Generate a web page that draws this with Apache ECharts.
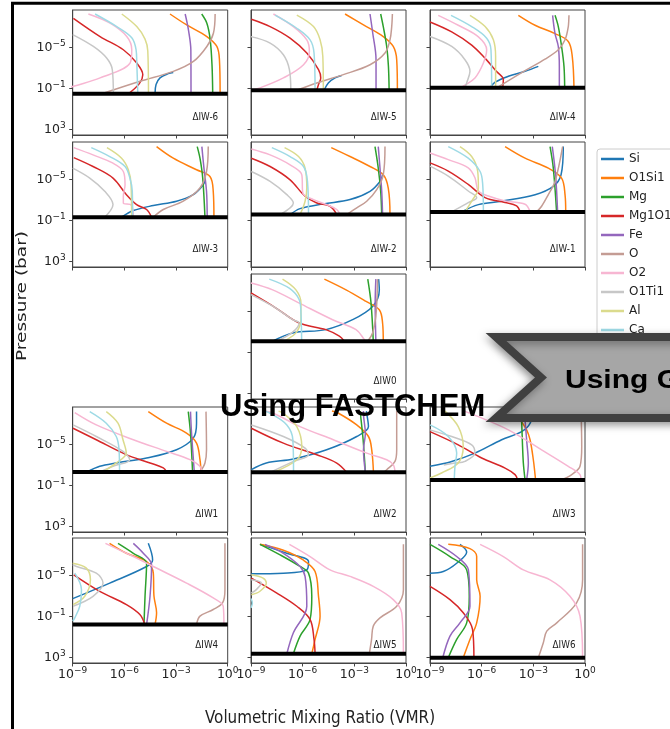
<!DOCTYPE html>
<html>
<head>
<meta charset="utf-8">
<script src="https://cdn.jsdelivr.net/npm/echarts@6/dist/echarts.min.js"></script>
<style>
  html, body { margin: 0; padding: 0; background: #fff; }
  #chart { width: 670px; height: 729px; }
</style>
</head>
<body>
<div id="chart"></div>
<script>
// Species profiles: each curve is a list of [log10(VMR), log10(P / bar)] points.
const species = ['Si', 'O1Si1', 'Mg', 'Mg1O1', 'Fe', 'O', 'O2', 'O1Ti1', 'Al', 'Ca'];
const speciesColors = ['#1f77b4', '#ff7f0e', '#2ca02c', '#d62728', '#9467bd',
                       '#c49c94', '#f7b6d2', '#c7c7c7', '#dbdb8d', '#9edae5'];

const panelNames = ['ΔIW-6', 'ΔIW-5', 'ΔIW-4', 'ΔIW-3', 'ΔIW-2', 'ΔIW-1', 'ΔIW0',
                    'ΔIW1', 'ΔIW2', 'ΔIW3', 'ΔIW4', 'ΔIW5', 'ΔIW6'];
// log10 of the surface pressure for each panel
const surfaceLogP = [-0.42, -0.77, -1.0, -1.26, -1.52, -1.78, -2.04,
                     -2.26, -2.22, -1.48, -0.15, 2.70, 3.09];

const vmrTicks = [-9, -6, -3, 0];
const pressureTicks = [-5, -1, 3];

const iwM6 = [
  [[-4.22,-0.42],[-4.16,-1.32],[-3.93,-1.97],[-3.45,-2.39],[-3.16,-2.51]],
  [[-3.35,-8.21],[-2.38,-7.14],[-1.21,-6.01],[-0.63,-5.04],[-0.48,-3.75],[-0.44,-0.42]],
  [[-1.51,-8.21],[-1.21,-7.31],[-1.02,-5.76],[-0.91,-3.18],[-0.87,-0.42]],
  [[-8.96,-7.79],[-7.41,-6.01],[-6.06,-4.72],[-5.28,-3.42],[-4.93,-2.29],[-5.13,-1.41],[-5.77,-0.42]],
  [[-2.47,-8.21],[-2.28,-6.66],[-2.14,-4.72],[-2.13,-0.42]],
  [[-7.31,-0.42],[-5.09,-1.64],[-3.16,-2.61],[-1.99,-3.58],[-1.21,-5.04],[-0.83,-6.33],[-0.73,-8.21]],
  [[-8.09,-8.21],[-6.83,-7.31],[-5.86,-6.01],[-5.57,-4.72],[-5.67,-3.42],[-7.41,-1.97],[-8.96,-1.15],[-9.2,-1.0]],
  [[-9.0,-6.2],[-7.80,-5.04],[-7.03,-3.91],[-6.70,-2.77],[-6.64,-0.42]],
  [[-6.15,-8.21],[-5.28,-6.98],[-4.80,-5.76],[-4.64,-4.6],[-4.60,-0.42]],
  [[-7.70,-8.21],[-6.44,-6.98],[-5.57,-5.9],[-5.32,-4.72],[-5.28,-3.5],[-5.22,-0.42]]
];
const iwM5 = [
  [[-4.76,-0.77],[-4.51,-1.48],[-4.12,-1.97],[-3.74,-2.2]],
  [[-3.54,-8.21],[-2.47,-7.14],[-1.32,-6.01],[-0.74,-5.04],[-0.54,-3.75],[-0.50,-0.77]],
  [[-1.47,-8.21],[-1.32,-6.98],[-1.12,-5.04],[-1.02,-3.10],[-0.98,-0.77]],
  [[-8.98,-7.69],[-7.89,-6.98],[-6.73,-5.85],[-5.76,-4.40],[-5.08,-2.78],[-4.95,-1.97],[-5.08,-1.33],[-5.18,-0.77]],
  [[-2.09,-8.21],[-1.93,-6.33],[-1.74,-3.75],[-1.74,-0.77]],
  [[-6.34,-0.77],[-5.18,-1.48],[-3.64,-2.29],[-2.09,-3.26],[-1.22,-4.40],[-0.93,-5.69],[-0.83,-6.98],[-0.79,-8.21]],
  [[-7.70,-8.21],[-6.54,-6.98],[-5.76,-5.69],[-5.61,-4.56],[-5.95,-3.26],[-7.12,-1.97],[-8.48,-1.0],[-9.0,-0.8]],
  [[-9.0,-6.0],[-7.89,-5.37],[-7.12,-4.23],[-6.77,-2.78],[-6.69,-0.77]],
  [[-6.34,-8.1],[-5.37,-6.98],[-4.99,-5.69],[-4.83,-4.07],[-4.80,-0.77]],
  [[-7.6,-8.1],[-6.34,-6.82],[-5.57,-5.69],[-5.34,-4.40],[-5.28,-0.77]]
];
const iwM4 = [
  [[-5.51,-1.0],[-5.22,-1.55],[-4.45,-2.13],[-3.48,-2.62],[-2.71,-3.10]],
  [[-3.87,-8.08],[-2.90,-7.11],[-1.74,-6.30],[-0.97,-5.53],[-0.74,-4.07],[-0.64,-1.0]],
  [[-1.74,-8.08],[-1.55,-6.98],[-1.36,-5.04],[-1.22,-3.10],[-1.18,-1.0]],
  [[-9.0,-7.43],[-7.74,-6.46],[-6.58,-5.17],[-5.80,-3.88],[-5.13,-2.59],[-4.74,-1.81],[-4.78,-1.0]],
  [[-1.88,-8.08],[-1.74,-6.30],[-1.55,-5.04],[-1.49,-3.10],[-1.49,-1.0]],
  [[-5.03,-1.1],[-3.48,-2.68],[-2.32,-3.81],[-1.55,-4.72],[-1.16,-5.69],[-0.97,-6.98],[-0.93,-8.08]],
  [[-8.52,-8.08],[-7.36,-7.11],[-6.19,-5.98],[-5.71,-4.72],[-5.90,-3.43],[-6.39,-1.97],[-7.07,-1.16],[-7.2,-1.0]],
  [[-9.0,-6.01],[-7.74,-5.04],[-6.97,-3.75],[-6.68,-2.62],[-6.87,-1.49],[-6.97,-1.0]],
  [[-6.68,-8.08],[-5.80,-6.98],[-5.32,-5.69],[-5.19,-4.07],[-5.19,-1.0]],
  [[-7.78,-8.08],[-6.58,-6.98],[-5.71,-5.85],[-5.46,-4.72],[-5.42,-1.0]]
];
const iwM3 = [
  [[-6.16,-1.26],[-5.48,-1.91],[-4.32,-2.40],[-2.97,-2.82],[-2.0,-3.46],[-1.42,-4.43],[-1.3,-5.0]],
  [[-4.13,-8.15],[-3.16,-7.02],[-1.81,-5.89],[-1.03,-5.24],[-0.84,-3.79],[-0.80,-1.26]],
  [[-1.77,-8.15],[-1.61,-7.02],[-1.45,-5.08],[-1.32,-1.26]],
  [[-8.94,-7.08],[-7.82,-6.21],[-6.66,-5.08],[-5.88,-3.46],[-5.29,-2.49],[-4.71,-2.01],[-4.42,-1.26]],
  [[-1.50,-8.15],[-1.38,-6.05],[-1.23,-3.79],[-1.19,-1.26]],
  [[-4.32,-1.26],[-3.74,-2.01],[-2.58,-2.82],[-1.61,-4.11],[-1.23,-5.72],[-1.13,-8.15]],
  [[-8.94,-8.05],[-7.82,-7.34],[-6.66,-6.53],[-6.06,-5.72],[-5.96,-4.43],[-6.06,-3.30],[-6.06,-2.65],[-5.58,-2.42],[-5.48,-1.26]],
  [[-9.0,-6.05],[-8.01,-5.08],[-7.14,-3.79],[-6.66,-2.49],[-7.14,-1.26]],
  [[-7.01,-8.05],[-6.16,-7.02],[-5.77,-5.89],[-5.61,-4.43],[-5.58,-1.26]],
  [[-7.92,-8.05],[-6.85,-7.18],[-5.96,-6.21],[-5.68,-5.08],[-5.54,-3.79],[-5.52,-1.26]]
];
const iwM2 = [
  [[-6.73,-1.52],[-6.15,-2.10],[-4.80,-2.56],[-3.25,-2.98],[-2.09,-3.79],[-1.51,-4.75],[-1.35,-5.4]],
  [[-4.34,-8.05],[-3.25,-7.18],[-2.09,-6.21],[-1.32,-5.40],[-1.03,-4.11],[-0.93,-1.52]],
  [[-1.80,-8.15],[-1.61,-6.05],[-1.47,-3.79],[-1.41,-1.52]],
  [[-8.98,-7.02],[-7.89,-6.21],[-6.73,-4.91],[-5.86,-3.30],[-5.18,-2.65],[-4.41,-2.33],[-4.02,-1.52]],
  [[-1.61,-8.15],[-1.51,-6.05],[-1.41,-3.79],[-1.36,-1.52]],
  [[-3.44,-1.52],[-2.86,-2.17],[-2.28,-2.82],[-1.70,-3.95],[-1.32,-5.40],[-1.22,-8.15]],
  [[-8.98,-7.92],[-7.89,-7.34],[-6.73,-6.37],[-6.05,-5.40],[-5.99,-3.62],[-5.37,-2.98],[-4.60,-2.49],[-4.02,-2.01],[-3.83,-1.52]],
  [[-8.98,-5.72],[-7.89,-4.75],[-6.92,-3.46],[-6.54,-2.65],[-7.31,-1.52]],
  [[-7.05,-8.05],[-6.24,-7.18],[-5.86,-6.05],[-5.76,-4.11],[-5.86,-2.82],[-6.15,-1.52]],
  [[-7.79,-8.05],[-6.73,-7.18],[-5.95,-6.21],[-5.72,-4.75],[-5.66,-1.52]]
];
const iwM1 = [
  [[-7.16,-1.78],[-6.19,-2.49],[-4.84,-2.82],[-2.90,-3.46],[-1.84,-4.27],[-1.39,-5.40],[-1.26,-8.15]],
  [[-4.64,-8.15],[-3.48,-7.02],[-2.13,-6.05],[-1.36,-5.08],[-1.16,-3.46],[-1.12,-1.78]],
  [[-2.03,-8.15],[-1.84,-6.05],[-1.65,-1.78]],
  [[-9.0,-6.56],[-7.94,-5.76],[-6.78,-4.46],[-5.80,-3.17],[-4.64,-2.69],[-3.97,-2.36],[-3.77,-1.78]],
  [[-1.90,-8.15],[-1.71,-5.40],[-1.59,-1.78]],
  [[-2.81,-1.78],[-2.52,-2.33],[-2.13,-3.46],[-1.74,-4.75],[-1.30,-8.15]],
  [[-9.0,-7.53],[-7.94,-6.88],[-6.78,-6.08],[-6.39,-5.11],[-6.19,-3.82],[-5.61,-3.33],[-4.64,-2.85],[-3.48,-2.52],[-3.19,-1.78]],
  [[-9.0,-6.24],[-7.94,-5.27],[-6.78,-3.82],[-6.29,-3.17],[-6.78,-2.69],[-7.46,-2.04],[-7.7,-1.78]],
  [[-7.26,-8.15],[-6.58,-7.18],[-6.23,-5.72],[-6.19,-4.11],[-6.58,-2.82],[-6.97,-1.78]],
  [[-7.94,-8.15],[-6.78,-7.02],[-6.09,-5.72],[-5.94,-4.46],[-5.90,-1.78]]
];
const iw0 = [
  [[-7.74,-2.04],[-6.58,-2.85],[-4.65,-3.17],[-3.10,-4.14],[-1.94,-5.43],[-1.55,-7.05],[-1.59,-8.1]],
  [[-4.74,-8.1],[-3.48,-7.05],[-2.32,-5.92],[-1.55,-5.11],[-1.36,-3.82],[-1.32,-2.04]],
  [[-2.22,-8.1],[-2.03,-5.76],[-1.90,-2.04]],
  [[-9.0,-6.75],[-7.55,-5.28],[-6.20,-3.82],[-4.65,-3.17],[-3.87,-2.53],[-3.58,-2.04]],
  [[-1.75,-8.1],[-1.79,-5.76],[-1.75,-2.04]],
  [[-2.22,-2.04],[-1.94,-2.85],[-1.75,-4.46],[-1.65,-8.1]],
  [[-9.0,-7.72],[-7.74,-7.05],[-6.20,-5.76],[-4.26,-4.14],[-2.90,-3.17],[-2.42,-2.20],[-2.35,-2.04]],
  [[-9.0,-6.59],[-7.74,-5.46],[-6.58,-4.14],[-6.20,-3.82],[-6.6,-2.9],[-7.5,-2.04]],
  [[-7.17,-8.1],[-6.39,-7.05],[-6.10,-5.76],[-6.10,-4.14],[-6.39,-2.85],[-6.97,-2.14],[-7.1,-2.04]],
  [[-7.94,-8.1],[-6.78,-7.21],[-6.20,-6.08],[-6.10,-4.79],[-6.06,-2.04]]
];
const iwP1 = [
  [[-8.17,-2.26],[-7.43,-2.82],[-6.47,-3.14],[-4.71,-3.62],[-2.97,-4.43],[-2.0,-5.56],[-1.81,-7.02],[-1.81,-8.15]],
  [[-4.61,-8.15],[-3.55,-7.02],[-2.39,-6.05],[-1.81,-5.08],[-1.61,-3.46],[-1.55,-2.26]],
  [[-2.29,-8.15],[-2.16,-6.05],[-2.04,-2.26]],
  [[-8.98,-6.53],[-7.63,-5.40],[-5.89,-3.95],[-4.51,-3.14],[-3.74,-2.65],[-3.55,-2.26]],
  [[-2.16,-8.15],[-2.10,-6.05],[-1.94,-2.26]],
  [[-1.26,-8.15],[-1.23,-4.43],[-1.32,-3.14],[-1.61,-2.26]],
  [[-8.88,-8.05],[-7.63,-6.85],[-5.48,-5.40],[-3.55,-4.27],[-2.19,-3.46],[-1.61,-2.82],[-1.52,-2.26]],
  [[-8.98,-6.85],[-7.63,-5.72],[-6.08,-4.27],[-5.69,-3.46],[-6.66,-2.82],[-7.43,-2.26]],
  [[-7.05,-8.15],[-6.37,-7.02],[-6.08,-5.40],[-5.89,-4.11],[-6.47,-3.14],[-7.24,-2.26]],
  [[-8.01,-8.15],[-7.05,-7.02],[-6.47,-5.72],[-6.31,-4.43],[-6.28,-2.26]]
];
const iwP2 = [
  [[-8.98,-2.48],[-8.11,-3.13],[-6.54,-3.52],[-4.61,-4.42],[-2.86,-5.72],[-2.18,-6.69],[-2.28,-7.99],[-2.3,-8.2]],
  [[-4.3,-8.2],[-3.92,-7.99],[-2.86,-6.85],[-2.18,-5.72],[-1.99,-4.42],[-1.89,-2.22]],
  [[-2.67,-8.2],[-2.65,-7.99],[-2.49,-5.40],[-2.36,-2.22]],
  [[-8.98,-6.53],[-7.12,-5.07],[-5.18,-3.94],[-4.02,-3.13],[-3.44,-2.22]],
  [[-2.47,-8.2],[-2.47,-7.99],[-2.36,-6.04],[-2.47,-4.42],[-2.36,-2.22]],
  [[-0.54,-8.2],[-0.54,-4.42],[-0.64,-3.29],[-1.12,-2.48],[-1.32,-2.22]],
  [[-8.2,-8.2],[-7.70,-7.99],[-6.15,-6.69],[-4.22,-5.40],[-2.28,-4.10],[-1.12,-3.45],[-0.74,-2.97],[-0.64,-2.22]],
  [[-8.98,-6.85],[-7.12,-5.72],[-5.86,-4.59],[-5.66,-3.94],[-6.53,-3.29],[-7.89,-2.22]],
  [[-7.4,-8.2],[-7.12,-7.99],[-6.34,-6.69],[-6.05,-4.75],[-6.34,-3.45],[-7.70,-2.22]],
  [[-8.2,-8.2],[-7.89,-7.99],[-6.92,-6.85],[-6.57,-5.40],[-6.53,-2.22]]
];
const iwP3 = [
  [[-9.0,-2.81],[-7.74,-3.29],[-6.39,-4.10],[-4.84,-5.40],[-3.68,-6.20],[-3.19,-7.01],[-3.05,-8.2]],
  [[-4.3,-8.2],[-3.77,-7.34],[-3.39,-6.37],[-3.19,-5.40],[-3.0,-3.45],[-2.87,-1.48]],
  [[-3.7,-8.2],[-3.68,-7.34],[-3.64,-5.40],[-3.58,-3.13],[-3.48,-1.48]],
  [[-9.0,-6.20],[-7.36,-4.91],[-6.0,-3.62],[-4.64,-2.64],[-4.06,-2.00],[-3.91,-1.48]],
  [[-3.5,-8.2],[-3.48,-7.34],[-3.39,-5.40],[-3.29,-3.13],[-3.39,-1.48]],
  [[-0.23,-8.2],[-0.19,-4.75],[-0.29,-2.81],[-0.77,-2.00],[-1.36,-1.48]],
  [[-7.0,-8.2],[-6.19,-7.66],[-4.45,-6.37],[-2.52,-4.42],[-0.97,-2.81],[-0.29,-2.00],[-0.23,-1.48]],
  [[-9.0,-6.37],[-7.74,-5.72],[-6.58,-4.91],[-6.39,-4.10],[-6.97,-3.29],[-7.55,-3.13],[-8.2,-2.95]],
  [[-8.13,-8.2],[-7.36,-6.69],[-7.07,-4.75],[-7.36,-3.13],[-8.33,-2.16],[-9.0,-1.67]],
  [[-9.0,-6.85],[-7.94,-5.72],[-7.45,-4.10],[-7.55,-2.81],[-7.59,-1.48]]
];
const iwP4 = [
  [[-4.61,-8.08],[-4.36,-6.46],[-4.71,-5.82],[-6.85,-4.20],[-9.0,-2.68]],
  [[-6.86,-8.08],[-5.88,-7.11],[-4.71,-6.30],[-4.32,-5.17],[-4.28,-2.91],[-4.13,-1.30],[-4.22,-0.15]],
  [[-6.37,-8.08],[-5.48,-7.11],[-4.71,-6.14],[-4.80,-2.91],[-4.86,-0.15]],
  [[-8.94,-5.01],[-7.43,-3.40],[-5.88,-2.10],[-5.10,-1.13],[-4.81,-0.15]],
  [[-5.48,-8.08],[-4.90,-7.11],[-4.42,-5.98],[-4.51,-2.91],[-4.71,-0.15]],
  [[-0.16,-8.08],[-0.16,-3.56],[-0.3,-2.26],[-0.84,-1.62],[-1.61,-0.97],[-1.81,-0.15]],
  [[-7.1,-8.08],[-5.48,-6.79],[-4.32,-5.82],[-2.39,-4.20],[-0.84,-2.75],[-0.26,-1.94],[-0.22,-0.15]],
  [[-9.0,-6.0],[-8.78,-5.82],[-7.63,-5.17],[-7.24,-4.20],[-7.82,-2.91],[-8.98,-1.94]],
  [[-9.0,-6.14],[-8.21,-5.66],[-7.97,-4.52],[-8.30,-2.91],[-8.98,-2.10]],
  [[-8.88,-5.17],[-8.49,-3.56],[-8.59,-1.94],[-8.88,-0.81],[-9.0,-0.5]]
];
const iwP5 = [
  [[-8.48,-7.98],[-6.92,-7.11],[-5.66,-6.30],[-5.76,-5.49],[-7.12,-5.17],[-8.98,-5.11]],
  [[-8.48,-7.98],[-7.12,-7.40],[-5.95,-6.43],[-5.28,-5.33],[-5.08,-2.91],[-4.99,-0.97],[-5.28,1.30],[-5.47,2.70]],
  [[-8.48,-7.98],[-7.31,-6.95],[-6.15,-5.82],[-5.66,-5.17],[-5.47,-2.91],[-5.57,-0.65],[-6.15,0.97],[-6.54,2.70]],
  [[-8.98,-4.69],[-7.50,-3.23],[-6.34,-1.94],[-5.57,-0.65],[-5.34,1.30],[-5.28,2.70]],
  [[-8.19,-7.98],[-7.12,-7.11],[-6.15,-5.82],[-5.86,-4.85],[-5.76,-1.94],[-6.54,0.65],[-6.92,2.70]],
  [[-0.15,-7.98],[-0.15,-3.56],[-0.54,-1.94],[-1.51,-0.81],[-1.90,0.0],[-2.0,1.30],[-2.13,2.70]],
  [[-6.77,-7.98],[-5.57,-6.79],[-4.41,-5.49],[-3.25,-4.85],[-1.90,-3.88],[-0.74,-2.59],[-0.25,-1.30],[-0.15,2.70]],
  [[-8.98,-4.52],[-8.40,-4.20],[-8.69,-3.56],[-8.98,-3.23]],
  [[-8.98,-5.01],[-8.30,-4.69],[-8.11,-4.20],[-8.48,-3.40],[-8.98,-3.07]],
  [[-9.0,-2.7],[-8.92,-2.26],[-9.0,-1.78]]
];
const iwP6 = [
  [[-7.26,-7.98],[-6.87,-7.24],[-7.45,-6.14],[-8.23,-5.33],[-9.0,-5.17]],
  [[-7.94,-7.98],[-6.68,-7.56],[-6.29,-6.79],[-6.29,-4.52],[-6.09,-2.91],[-6.29,-0.32],[-6.68,1.30],[-7.07,3.09]],
  [[-9.0,-7.98],[-7.84,-6.79],[-6.87,-5.49],[-6.72,-2.91],[-6.87,-0.32],[-7.45,1.30],[-7.94,3.09]],
  [[-9.0,-3.88],[-7.84,-2.59],[-7.07,-1.30],[-6.53,0.32],[-6.45,3.09]],
  [[-8.52,-7.98],[-7.45,-6.79],[-6.77,-5.49],[-6.68,-1.94],[-7.26,-0.32],[-7.84,0.97],[-8.26,3.09]],
  [[-0.14,-7.98],[-0.14,-4.52],[-0.49,-2.26],[-1.64,-0.32],[-2.22,0.49],[-2.42,1.62],[-2.71,3.09]],
  [[-6.09,-7.98],[-4.74,-6.79],[-3.58,-5.49],[-2.03,-4.52],[-0.87,-2.91],[-0.29,-0.97],[-0.14,3.09]],
  [],
  [],
  []
];

const panelCurves = [iwM6, iwM5, iwM4, iwM3, iwM2, iwM1, iw0, iwP1, iwP2, iwP3, iwP4, iwP5, iwP6];

// ---- layout of the small multiples ----
const colLeft = [72.7, 251, 430];
const rowTop = [10, 142, 274, 407, 538];
const panelW = 155, panelH = 125;
const panelCell = [[0,0],[0,1],[0,2],[1,0],[1,1],[1,2],[2,1],[3,0],[3,1],[3,2],[4,0],[4,1],[4,2]];

const FONT = 'DejaVu Sans';
const axisColor = '#444';
const squeeze = 0.8;   // the figure text is rendered narrow

// 10^n labels with a raised exponent
const pow10 = v => '{b|10}{s|' + String(Math.round(v)).replace('-', '\u2212') + '}';
const powRich = {
  b: { fontFamily: FONT, fontSize: 12.5, color: '#222', verticalAlign: 'bottom' },
  s: { fontFamily: FONT, fontSize: 9, color: '#222', verticalAlign: 'bottom', padding: [0, 0, 6, 0] }
};

const grids = [], xAxes = [], yAxes = [], series = [], graphics = [];

panelCurves.forEach((curves, p) => {
  const [r, c] = panelCell[p];
  const left = colLeft[c], top = rowTop[r];
  grids.push({ left, top, width: panelW, height: panelH, show: true,
               borderColor: axisColor, borderWidth: 1, backgroundColor: '#fff' });
  xAxes.push({
    type: 'value', gridIndex: p, min: -9, max: 0, interval: 3,
    axisLine: { show: true, onZero: false, lineStyle: { color: axisColor, width: 1 } },
    axisTick: { show: true, length: 3.5, lineStyle: { color: axisColor } },
    axisLabel: { show: r === 4, formatter: pow10, rich: powRich, margin: 3,
                 showMinLabel: true, showMaxLabel: true },
    splitLine: { show: false }
  });
  yAxes.push({
    type: 'value', gridIndex: p, inverse: true, min: -8.6, max: 3.6,
    axisLine: { show: true, onZero: false, lineStyle: { color: axisColor, width: 1 } },
    axisTick: { show: true, length: 3.5, lineStyle: { color: axisColor }, customValues: pressureTicks },
    axisLabel: { show: c === 0, customValues: pressureTicks, formatter: pow10, rich: powRich, margin: 7 },
    splitLine: { show: false }
  });
  curves.forEach((pts, s) => {
    series.push({
      type: 'line', name: species[s], xAxisIndex: p, yAxisIndex: p,
      data: pts, symbol: 'none', smooth: 0.35, clip: true, silent: true,
      lineStyle: { width: 1.5, color: speciesColors[s] },
      itemStyle: { color: speciesColors[s] }, z: 2
    });
  });
  // surface level
  series.push({
    type: 'line', name: 'surface', xAxisIndex: p, yAxisIndex: p,
    data: [[-9, surfaceLogP[p]], [0, surfaceLogP[p]]],
    symbol: 'none', silent: true, clip: false,
    lineStyle: { width: 4, color: '#000' }, z: 3
  });
  graphics.push({
    type: 'text', x: left + panelW - 9.5, y: top + 107, scaleX: squeeze,
    style: { text: panelNames[p], x: 0, y: 0, align: 'right', verticalAlign: 'middle',
             font: '11px "DejaVu Sans"', fill: '#222' }, z: 10
  });
});

// axis titles
graphics.push({
  type: 'text', rotation: Math.PI / 2, x: 22, y: 296, scaleY: squeeze,
  style: { text: 'Pressure (bar)', x: 0, y: 0, align: 'center', verticalAlign: 'middle',
           font: '18.5px "DejaVu Sans"', fill: '#222' }
});
graphics.push({
  type: 'text', x: 320, y: 718, scaleX: 0.82,
  style: { text: 'Volumetric Mixing Ratio (VMR)', x: 0, y: 0, align: 'center', verticalAlign: 'middle',
           font: '18.5px "DejaVu Sans"', fill: '#222' }
});

// outer frame of the slide
graphics.push({
  type: 'rect', shape: { x: 12.5, y: 3.2, width: 900, height: 900 },
  style: { fill: 'none', stroke: '#000', lineWidth: 3 }, z: 50
});

// headline over the small multiples
graphics.push({
  type: 'text', x: 220, y: 407.5,
  style: { text: 'Using FASTCHEM', x: 0, y: 0, font: 'bold 31px "Liberation Sans"', fill: '#000',
           verticalAlign: 'middle' }, z: 60
});

// chevron banner
graphics.push({
  type: 'polygon',
  shape: { points: [[496, 337], [720, 337], [720, 418], [496, 418], [541, 377.5]] },
  style: { fill: '#a6a6a6', stroke: '#404040', lineWidth: 8, lineJoin: 'miter',
           shadowBlur: 8, shadowColor: 'rgba(0,0,0,0.35)', shadowOffsetX: -2, shadowOffsetY: 3 },
  z: 60
});
graphics.push({
  type: 'text', x: 565, y: 381, scaleY: 0.85,
  style: { text: 'Using G', x: 0, y: 0, font: 'bold 30px "Liberation Sans"', fill: '#000',
           verticalAlign: 'middle' }, z: 61
});

const option = {
  animation: false,
  backgroundColor: '#fff',
  color: speciesColors,
  grid: grids,
  xAxis: xAxes,
  yAxis: yAxes,
  series,
  legend: {
    data: species, orient: 'vertical', left: 597, top: 149,
    icon: 'rect', itemWidth: 23, itemHeight: 2.5, itemGap: 7,
    padding: [4, 6, 4, 4], backgroundColor: '#fff',
    borderColor: '#cccccc', borderWidth: 1, borderRadius: 3,
    textStyle: { fontFamily: FONT, fontSize: 12, color: '#222' },
    selectedMode: false
  },
  graphic: graphics
};

const chart = echarts.init(document.getElementById('chart'), null, { renderer: 'canvas' });
chart.setOption(option);
</script>
</body>
</html>
